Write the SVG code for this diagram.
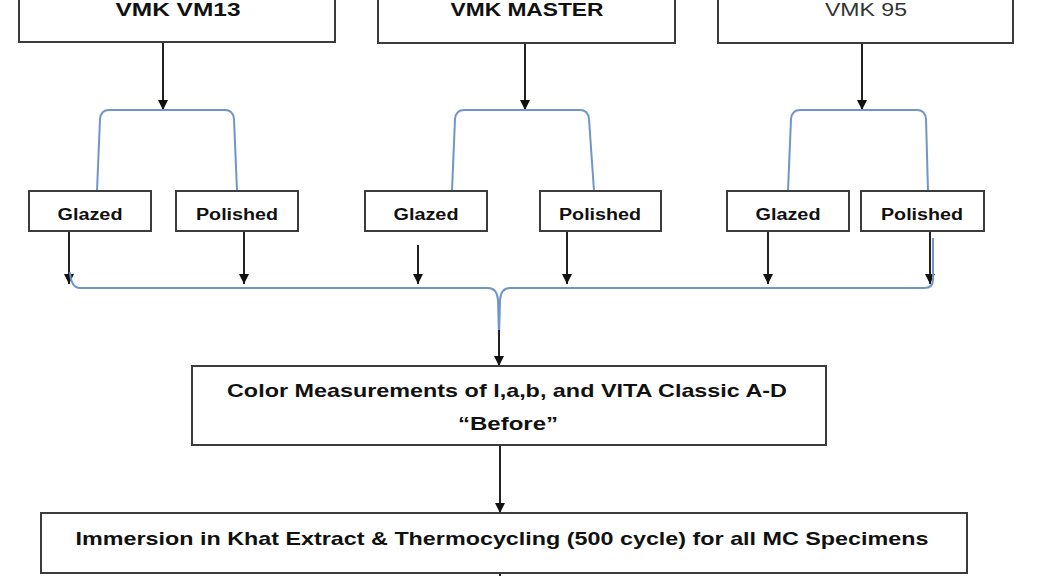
<svg xmlns="http://www.w3.org/2000/svg" width="1038" height="576" viewBox="0 0 1038 576">
<defs>
<marker id="ah" markerUnits="userSpaceOnUse" markerWidth="11" markerHeight="11" refX="10" refY="5.5" orient="auto">
<path d="M0,0.5 L10,5.5 L0,10.5 z" fill="#111"/>
</marker>
<style>
.box{fill:#fff;stroke:#3c3c3c;stroke-width:2}
.arr{stroke:#222;stroke-width:2;fill:none;marker-end:url(#ah)}
.brace{stroke:#6f96c8;stroke-width:2;fill:none}
.t{font-family:"Liberation Sans",Arial,sans-serif;font-weight:bold;fill:#111;text-anchor:middle}
.big{font-size:19px}
.sm{font-size:16px}
.cond{font-size:19px}
</style>
</defs>
<rect width="1038" height="576" fill="#fff"/>
<g id="connectors">
<line class="arr" x1="163" y1="43" x2="163" y2="110"/>
<line class="arr" x1="525" y1="44" x2="525" y2="110"/>
<line class="arr" x1="862" y1="44" x2="862" y2="110"/>
<path class="brace" d="M97,191 L100,119 Q101,110 109,110 L225,110 Q233,110 234,119 L237,191"/>
<path class="brace" d="M452,191 L455,119 Q456,110 464,110 L580,110 Q588,110 589,119 L594,191"/>
<path class="brace" d="M788,191 L791,119 Q792,110 800,110 L917,110 Q925,110 926,119 L928,191"/>
<line class="arr" x1="69" y1="232" x2="69" y2="284"/>
<line class="arr" x1="244" y1="232" x2="244" y2="284"/>
<line class="arr" x1="418" y1="245" x2="418" y2="284"/>
<line class="arr" x1="567" y1="232" x2="567" y2="284"/>
<line class="arr" x1="768" y1="232" x2="768" y2="284"/>
<line class="arr" x1="930" y1="232" x2="930" y2="284"/>
<path class="brace" d="M70,272 Q71,288 80,288 L488,288 Q497,288 498,300 L499,337 M499,337 L500,300 Q501,288 510,288 L924,288 Q933,288 933,280 L933,238"/>
<line class="arr" x1="499" y1="330" x2="499" y2="366"/>
<line class="arr" x1="500" y1="446" x2="500" y2="513"/>
<line stroke="#222" stroke-width="2" x1="500" y1="573" x2="500" y2="580"/>
</g>
<g id="vm13">
<rect class="box" x="19" y="-10" width="316" height="52"/>
<text class="t big" x="178" y="16" textLength="125" lengthAdjust="spacingAndGlyphs">VMK VM13</text>
</g>
<g id="master">
<rect class="box" x="378" y="-10" width="297" height="53"/>
<text class="t big" x="527" y="16" textLength="153" lengthAdjust="spacingAndGlyphs">VMK MASTER</text>
</g>
<g id="vm95">
<rect class="box" x="718" y="-10" width="295" height="53"/>
<text class="t big" x="866" y="16" textLength="82" lengthAdjust="spacingAndGlyphs" style="font-weight:normal;fill:#333">VMK 95</text>
</g>
<g id="glazed1">
<rect class="box" x="29" y="191" width="122" height="40"/>
<text class="t sm" x="90" y="220" textLength="65" lengthAdjust="spacingAndGlyphs">Glazed</text>
</g>
<g id="polished1">
<rect class="box" x="176" y="191" width="122" height="40"/>
<text class="t sm" x="237" y="220" textLength="82" lengthAdjust="spacingAndGlyphs">Polished</text>
</g>
<g id="glazed2">
<rect class="box" x="365" y="191" width="122" height="40"/>
<text class="t sm" x="426" y="220" textLength="65" lengthAdjust="spacingAndGlyphs">Glazed</text>
</g>
<g id="polished2">
<rect class="box" x="540" y="191" width="121" height="40"/>
<text class="t sm" x="600" y="220" textLength="82" lengthAdjust="spacingAndGlyphs">Polished</text>
</g>
<g id="glazed3">
<rect class="box" x="727" y="191" width="122" height="40"/>
<text class="t sm" x="788" y="220" textLength="65" lengthAdjust="spacingAndGlyphs">Glazed</text>
</g>
<g id="polished3">
<rect class="box" x="861" y="191" width="123" height="40"/>
<text class="t sm" x="922" y="220" textLength="82" lengthAdjust="spacingAndGlyphs">Polished</text>
</g>
<g id="color">
<rect class="box" x="192" y="366" width="634" height="79"/>
<text class="t cond" x="507" y="397" textLength="560" lengthAdjust="spacingAndGlyphs">Color Measurements of l,a,b, and VITA Classic A-D</text>
<text class="t cond" x="508" y="430" textLength="100" lengthAdjust="spacingAndGlyphs">“Before”</text>
</g>
<g id="immersion">
<rect class="box" x="41" y="513" width="926" height="60"/>
<text class="t cond" x="502" y="545" textLength="853" lengthAdjust="spacingAndGlyphs">Immersion in Khat Extract &amp; Thermocycling (500 cycle) for all MC  Specimens</text>
</g>
</svg>
